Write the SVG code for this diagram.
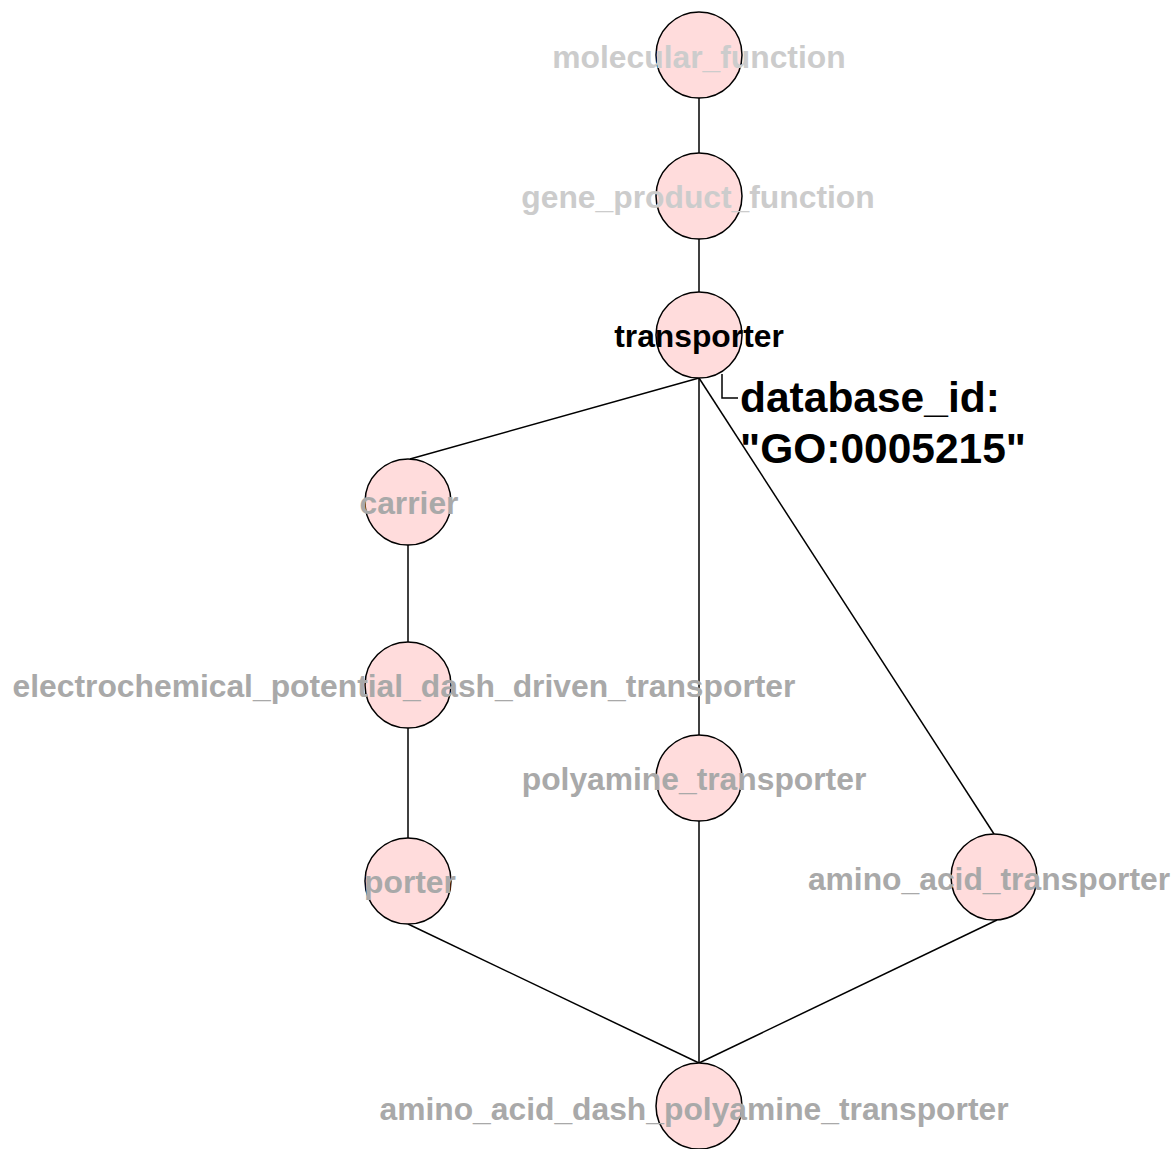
<svg xmlns="http://www.w3.org/2000/svg" width="1176" height="1149" viewBox="0 0 1176 1149">
<style>
.n{fill:#ffdcdc;stroke:#000;stroke-width:1.5}
.e{stroke:#000;stroke-width:1.5;fill:none}
text{font-family:"Liberation Sans",Arial,sans-serif;font-weight:bold;font-size:31.8px;text-anchor:middle}
.l1{fill:#cccccc}
.l2{fill:#a9a9a9}
.l0{fill:#000}
.db{fill:#000;font-size:42.5px;text-anchor:start}
</style>
<rect width="1176" height="1149" fill="#fff"/>
<g id="connectors">
<line class="e" x1="699" y1="98" x2="699" y2="153"/>
<line class="e" x1="699" y1="239" x2="699" y2="292"/>
<line class="e" x1="699" y1="378" x2="410" y2="459"/>
<line class="e" x1="699" y1="378" x2="699" y2="735"/>
<line class="e" x1="699" y1="378" x2="994" y2="834"/>
<line class="e" x1="408" y1="545" x2="408" y2="642"/>
<line class="e" x1="408" y1="728" x2="408" y2="838"/>
<line class="e" x1="408" y1="924" x2="699" y2="1063"/>
<line class="e" x1="699" y1="821" x2="699" y2="1063"/>
<line class="e" x1="997" y1="920" x2="699" y2="1063"/>
<path class="e" d="M722,374 V398 H738"/>
</g>
<g id="molecular_function"><circle class="n" cx="699" cy="55" r="43"/><text class="l1" x="699" y="68">molecular_function</text></g>
<g id="gene_product_function"><circle class="n" cx="699" cy="196" r="43"/><text class="l1" x="698" y="208">gene_product_function</text></g>
<g id="transporter"><circle class="n" cx="699" cy="335" r="43"/><text class="l0" x="699" y="347">transporter</text></g>
<g id="carrier"><circle class="n" cx="408" cy="502" r="43"/><text class="l2" x="409" y="514">carrier</text></g>
<g id="electrochemical_potential_dash_driven_transporter"><circle class="n" cx="408" cy="685" r="43"/><text class="l2" x="404" y="697">electrochemical_potential_dash_driven_transporter</text></g>
<g id="polyamine_transporter"><circle class="n" cx="699" cy="778" r="43"/><text class="l2" x="694" y="790">polyamine_transporter</text></g>
<g id="porter"><circle class="n" cx="408" cy="881" r="43"/><text class="l2" x="410" y="893">porter</text></g>
<g id="amino_acid_transporter"><circle class="n" cx="994" cy="877" r="43"/><text class="l2" x="989" y="890">amino_acid_transporter</text></g>
<g id="amino_acid_dash_polyamine_transporter"><circle class="n" cx="699" cy="1106" r="43"/><text class="l2" x="694" y="1120">amino_acid_dash_polyamine_transporter</text></g>
<g id="database_id"><text class="db" x="740" y="412">database_id:</text><text class="db" x="740" y="463">"GO:0005215"</text></g>
</svg>
